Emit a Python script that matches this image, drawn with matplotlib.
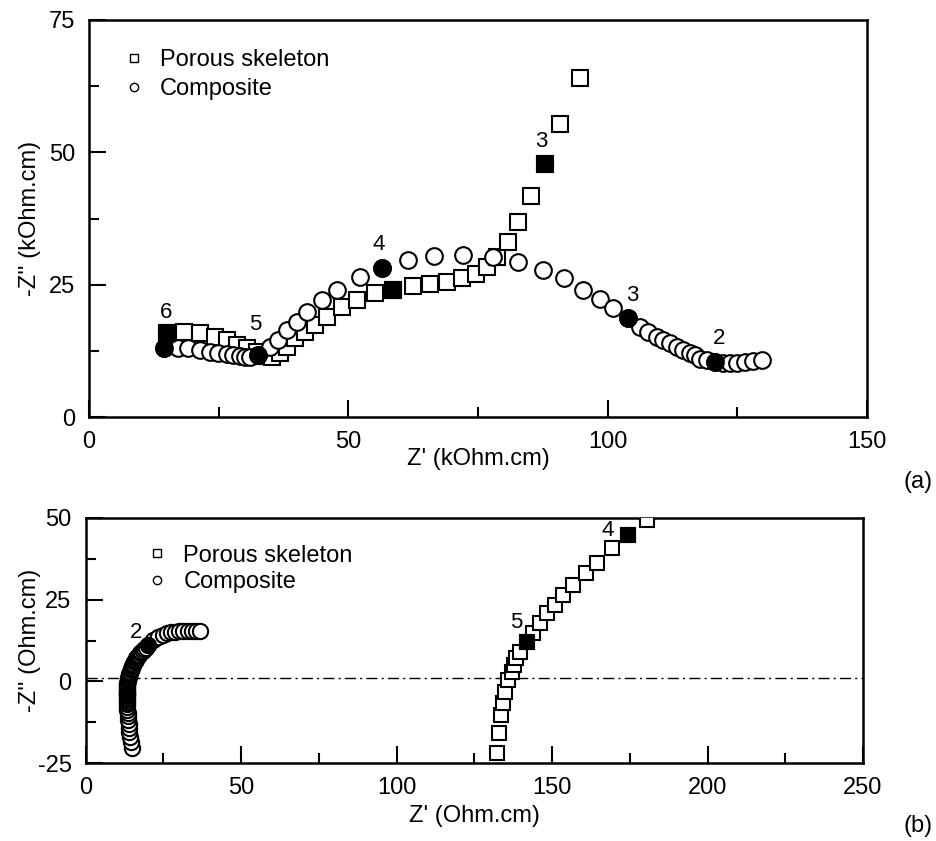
import matplotlib
matplotlib.use("Agg")
import matplotlib.pyplot as plt
from matplotlib.lines import Line2D

# ---- (a) kOhm.cm data ----
a_por_x = [15.0, 18.3, 21.4, 24.3, 26.6, 28.5, 30.5, 32.4, 34.0, 35.3, 36.8, 38.2, 39.7,
           41.6, 43.6, 45.9, 48.8, 51.7, 55.1, 58.6, 62.5, 65.7, 69.0, 71.9, 74.6, 76.7,
           78.7, 80.8, 82.7, 85.2, 87.9, 90.8, 94.7]
a_por_y = [15.9, 16.1, 15.9, 15.1, 14.5, 13.6, 13.0, 12.3, 11.6, 11.3, 12.1, 13.2, 14.9,
           16.1, 17.4, 18.9, 20.8, 22.1, 23.4, 24.0, 24.7, 25.1, 25.5, 26.2, 27.0, 28.3,
           30.2, 33.1, 36.8, 41.7, 47.8, 55.3, 64.0]
a_por_filled = [0, 19, 30]

a_com_x = [14.5, 17.2, 19.1, 21.4, 23.3, 24.9, 26.6, 27.8, 29.1, 30.1, 31.0, 32.6, 34.9,
           36.4, 38.2, 40.1, 42.0, 44.9, 47.8, 52.2, 56.5, 61.5, 66.5, 72.1, 77.9, 82.7,
           87.5, 91.6, 95.2, 98.5, 101.0, 103.9, 106.2, 107.8, 109.5, 110.7, 112.0, 113.4,
           114.5, 115.9, 116.8, 117.8, 119.1, 120.7, 122.2, 123.6, 124.9, 126.5, 128.0, 129.8]
a_com_y = [13.0, 13.0, 13.0, 12.7, 12.3, 12.1, 11.9, 11.7, 11.5, 11.4, 11.4, 11.7, 13.2,
           14.5, 16.4, 17.9, 19.8, 22.1, 24.0, 26.4, 28.1, 29.7, 30.4, 30.6, 30.2, 29.3,
           27.8, 26.3, 24.0, 22.2, 20.6, 18.7, 17.0, 16.1, 15.1, 14.5, 14.0, 13.2,
           12.7, 12.1, 11.7, 11.0, 10.7, 10.4, 10.2, 10.2, 10.2, 10.4, 10.5, 10.7]
a_com_filled = [0, 11, 20, 31, 43]

a_labels = ["6", "5", "4", "3", "3", "2"]
a_lab_x = [14.9, 32.0, 55.9, 87.3, 104.7, 121.5]
a_lab_y = [19.8, 17.4, 32.5, 52.0, 22.9, 14.9]

# ---- (b) Ohm.cm data ----
b_por_x = [132.3, 133.0, 133.6, 134.2, 134.9, 135.9, 137.1, 137.8, 138.4, 139.7, 141.9,
           143.9, 146.1, 148.4, 150.9, 153.5, 156.7, 160.9, 164.4, 169.3, 174.4, 180.5]
b_por_y = [-21.9, -15.8, -10.3, -6.6, -3.3, 0.4, 2.9, 5.0, 7.1, 8.9, 12.0,
           14.8, 17.9, 20.9, 23.4, 26.4, 29.5, 33.2, 36.2, 40.8, 44.8, 49.4]
b_por_filled = [10, 20]

b_com_x = [15.0, 14.6, 14.3, 14.1, 14.0, 14.0, 13.8, 13.7, 13.6, 13.5, 13.4, 13.4, 13.3,
           13.3, 13.3, 13.3, 13.3, 13.3, 13.3, 13.3, 13.3, 13.4, 13.4, 13.5, 13.6, 13.7,
           13.8, 13.9, 14.0, 14.1, 14.2, 14.3, 14.5, 14.7, 14.9, 15.0, 15.2, 15.4, 15.6,
           15.8, 16.1, 16.3, 16.6, 16.9, 17.3, 17.6, 18.0, 18.4, 18.8, 19.3, 20.1, 21.7,
           23.3, 24.8, 26.2, 27.5, 28.8, 30.0, 31.3, 32.8, 34.2, 35.5, 36.8]
b_com_y = [-20.4, -18.6, -17.0, -15.6, -14.3, -13.0, -11.8, -10.7, -9.7, -8.8, -7.9, -7.0,
           -6.4, -5.8, -5.2, -4.6, -4.0, -3.5, -3.0, -2.5, -2.0, -1.5, -1.0, -0.5, 0.0, 0.5,
           1.0, 1.4, 1.8, 2.2, 2.6, 3.0, 3.4, 3.8, 4.2, 4.6, 5.0, 5.4, 5.8,
           6.2, 6.6, 7.0, 7.4, 7.8, 8.2, 8.6, 9.0, 9.4, 9.8, 10.3, 11.2, 12.6,
           13.6, 14.3, 14.8, 15.0, 15.1, 15.3, 15.4, 15.4, 15.4, 15.4, 15.4]
b_com_filled = [16, 50]

b_labels = ["2", "5", "4"]
b_lab_x = [16.2, 138.4, 168.0]
b_lab_y = [15.1, 17.9, 46.3]

narrow = ["Liberation Sans Narrow", "Liberation Sans", "DejaVu Sans"]
plt.rcParams["font.family"] = ["Liberation Sans", "DejaVu Sans"]
plt.rcParams["axes.unicode_minus"] = False

fig = plt.figure(figsize=(9.36, 8.41), dpi=100)
ax1 = fig.add_axes([89 / 936, 1 - 417 / 841, 778 / 936, 397 / 841])
ax2 = fig.add_axes([85.5 / 936, 1 - 763 / 841, 777.5 / 936, 245 / 841])


def draw_series(ax, xs, ys, filled, marker, ms):
    ax.plot(xs, ys, linestyle="none", marker=marker, ms=ms, mfc="white",
            mec="black", mew=1.5, zorder=3)
    ax.plot([xs[i] for i in filled], [ys[i] for i in filled], linestyle="none",
            marker=marker, ms=ms, mfc="black", mec="black", mew=1.5, zorder=4)


def style_axis(ax, xlim, ylim, xmaj, ymaj, xlabel, ylabel):
    ax.set_xlim(*xlim)
    ax.set_ylim(*ylim)
    ax.set_xticks(xmaj)
    ax.set_yticks(ymaj)
    ax.set_xticks([v + (xmaj[1] - xmaj[0]) / 2 for v in xmaj[:-1]], minor=True)
    ax.set_yticks([v + (ymaj[1] - ymaj[0]) / 2 for v in ymaj[:-1]], minor=True)
    ax.tick_params(which="both", direction="in", top=False, right=False, width=1.5)
    ax.tick_params(which="major", length=12, labelsize=17, pad=10)
    ax.tick_params(which="minor", length=7)
    for lab in ax.get_xticklabels() + ax.get_yticklabels():
        lab.set_family(narrow)
    for sp in ax.spines.values():
        sp.set_linewidth(1.8)
    ax.set_xlabel(xlabel, fontsize=17, family=narrow)
    ax.set_ylabel(ylabel, fontsize=17, family=narrow)


# (a)
draw_series(ax1, a_por_x, a_por_y, a_por_filled, "s", 11)
draw_series(ax1, a_com_x, a_com_y, a_com_filled, "o", 12)
for t, x, y in zip(a_labels, a_lab_x, a_lab_y):
    ax1.text(x, y, t, fontsize=16, ha="center", va="center")
style_axis(ax1, (0, 150), (0, 75), [0, 50, 100, 150], [0, 25, 50, 75],
           "Z' (kOhm.cm)", "-Z'' (kOhm.cm)")
ax1.xaxis.set_label_coords(0.5, -0.078)
ax1.yaxis.set_label_coords(-0.062, 0.5)

# (b)
ax2.axhline(1.0, color="black", lw=1.0, ls=(0, (8, 3, 1.5, 3)), zorder=1)
draw_series(ax2, b_por_x, b_por_y, b_por_filled, "s", 10)
draw_series(ax2, b_com_x, b_com_y, b_com_filled, "o", 11)
for t, x, y in zip(b_labels, b_lab_x, b_lab_y):
    ax2.text(x, y, t, fontsize=16, ha="center", va="center")
style_axis(ax2, (0, 250), (-25, 50), [0, 50, 100, 150, 200, 250], [-25, 0, 25, 50],
           "Z' (Ohm.cm)", "-Z'' (Ohm.cm)")
ax2.xaxis.set_label_coords(0.5, -0.17)
ax2.yaxis.set_label_coords(-0.057, 0.5)

# legends
handles = [Line2D([], [], ls="none", marker="s", ms=6, mfc="white", mec="black", mew=1.0),
           Line2D([], [], ls="none", marker="o", ms=6, mfc="white", mec="black", mew=1.0)]
names = ["Porous skeleton", "Composite"]
ax1.legend(handles, names, loc="upper left", bbox_to_anchor=(0.03, 0.95), frameon=False,
           fontsize=17, handlelength=1.0, handletextpad=0.6, labelspacing=0.3,
           borderaxespad=0)
ax2.legend(handles, names, loc="upper left", bbox_to_anchor=(0.065, 0.93), frameon=False,
           fontsize=17, handlelength=1.0, handletextpad=0.6, labelspacing=0.2,
           borderaxespad=0)

fig.text(918 / 936, 1 - 482 / 841, "(a)", fontsize=17, ha="center", va="center")
fig.text(918 / 936, 1 - 826 / 841, "(b)", fontsize=17, ha="center", va="center")

fig.savefig("out.png", dpi=100)
